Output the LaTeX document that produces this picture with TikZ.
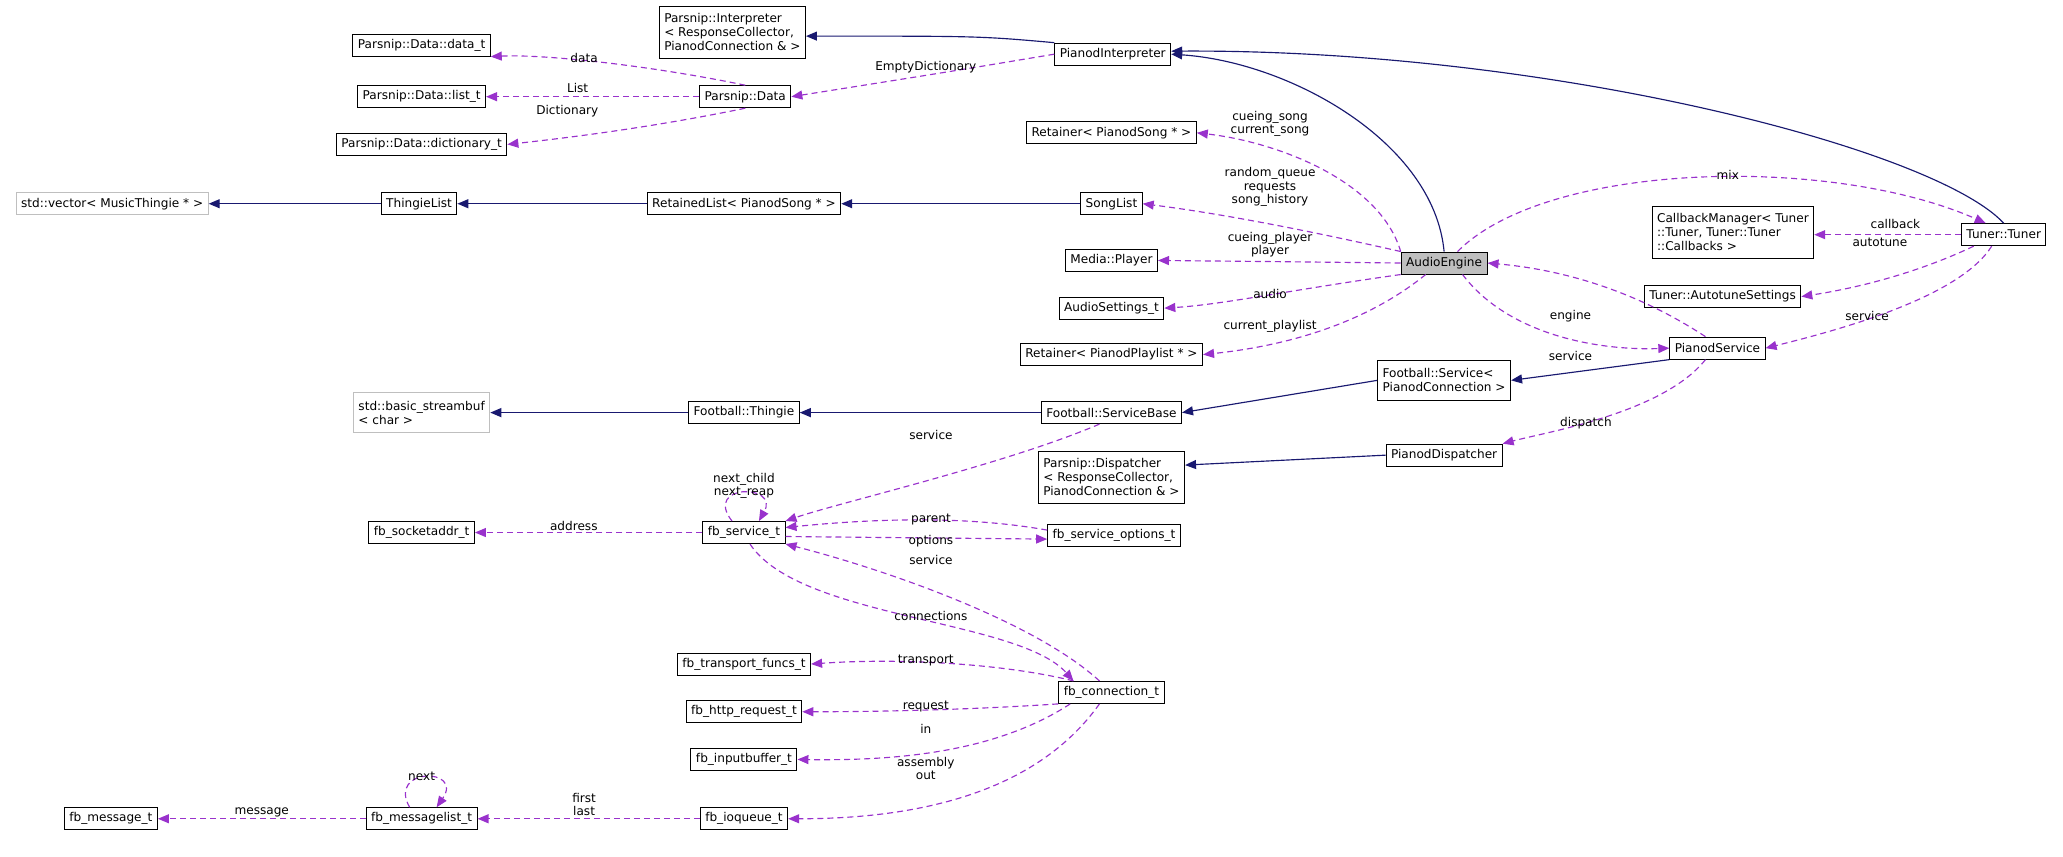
\documentclass[tikz,border=0pt]{standalone}
\usepackage{fontspec}
\setmainfont{DejaVu Sans}
\usetikzlibrary{arrows.meta}
\definecolor{navy}{RGB}{25,25,112}
\definecolor{orch}{RGB}{153,50,204}
\definecolor{gb}{RGB}{191,191,191}
\begin{document}
\begin{tikzpicture}[x=1.29pt,y=-1.29pt,every node/.style={transform shape},scale=1,
 box/.style={draw=black,fill=white,font=\fontsize{12.1}{13.9}\selectfont,inner xsep=5pt,inner ysep=0pt,minimum height=22,align=left,line width=1pt},
 gbox/.style={box,draw=gb},
 inh/.style={draw=navy,line width=1.15pt,-{Triangle[length=11pt,width=9pt]}},
 dep/.style={draw=orch,dashed,dash pattern=on 6pt off 4pt,line width=1.15pt,-{Triangle[length=11pt,width=9pt]}},
 lbl/.style={font=\fontsize{12.1}{13.2}\selectfont,align=center,inner sep=0pt}]
\useasboundingbox (0,0) rectangle (1600,664);
% nodes
\node[box,minimum height=52] (pint) at (568,25) {Parsnip::Interpreter\\< ResponseCollector,\\ PianodConnection \& >};
\node[box] (pi) at (863,42) {PianodInterpreter};
\node[box] (dt) at (327,35) {Parsnip::Data::data\_t};
\node[box] (lt) at (327,75) {Parsnip::Data::list\_t};
\node[box] (dct) at (327,112) {Parsnip::Data::dictionary\_t};
\node[box] (pd) at (578,75) {Parsnip::Data};
\node[box] (rs) at (862,103) {Retainer< PianodSong * >};
\node[gbox] (vec) at (87,158) {std::vector< MusicThingie * >};
\node[box] (tl) at (325,158) {ThingieList};
\node[box] (rl) at (577,158) {RetainedList< PianodSong * >};
\node[box] (sl) at (862,158) {SongList};
\node[box] (mp) at (862,202) {Media::Player};
\node[box] (as) at (862,239) {AudioSettings\_t};
\node[box] (rp) at (862,275) {Retainer< PianodPlaylist * >};
\node[box,fill=gb] (ae) at (1120,204) {AudioEngine};
\node[box,minimum height=52] (cm) at (1344,180) {CallbackManager< Tuner\\::Tuner, Tuner::Tuner\\::Callbacks >};
\node[box] (ats) at (1336,230) {Tuner::AutotuneSettings};
\node[box] (tu) at (1554,182) {Tuner::Tuner};
\node[box] (ps) at (1332,270) {PianodService};
\node[box,minimum height=40] (fs) at (1120,295) {Football::Service<\\ PianodConnection >};
\node[gbox,minimum height=40] (sb) at (327,320) {std::basic\_streambuf\\< char >};
\node[box] (ft) at (577,320) {Football::Thingie};
\node[box] (fsb) at (862,320) {Football::ServiceBase};
\node[box,minimum height=52] (pdis) at (862,370) {Parsnip::Dispatcher\\< ResponseCollector,\\ PianodConnection \& >};
\node[box] (pdp) at (1120,353) {PianodDispatcher};
\node[box] (fsa) at (327,413) {fb\_socketaddr\_t};
\node[box] (fbs) at (577,413) {fb\_service\_t};
\node[box] (fbo) at (864,415) {fb\_service\_options\_t};
\node[box] (ftf) at (577,515) {fb\_transport\_funcs\_t};
\node[box] (fhr) at (577,552) {fb\_http\_request\_t};
\node[box] (fib) at (577,589) {fb\_inputbuffer\_t};
\node[box] (fc) at (862,537) {fb\_connection\_t};
\node[box] (fm) at (86,635) {fb\_message\_t};
\node[box] (fml) at (327,635) {fb\_messagelist\_t};
\node[box] (fq) at (577,635) {fb\_ioqueue\_t};
% inheritance
\draw[inh] (pi.north west) .. controls (760,28) .. (pint.east |- 0,28);
\draw[inh] (ae.north) .. controls (1112,110) and (1000,48) .. (pi.east);
\draw[inh] (tu.north) .. controls (1500,115) and (1200,38) .. ([yshift=3pt]pi.east);
\draw[inh] (tl.west) -- (vec.east);
\draw[inh] (rl.west) -- (tl.east);
\draw[inh] (sl.west) -- (rl.east);
\draw[inh] (ps.south west) -- (fs.east);
\draw[inh] (fs.west) -- (fsb.east);
\draw[inh] (fsb.west) -- (ft.east);
\draw[inh] (ft.west) -- (sb.east);
\draw[inh] (pdp.west) -- ([yshift=12pt]pdis.east);
% dependencies
\draw[dep] (pi.west) .. controls (740,55) .. (pd.east);
\draw[dep] (pd.north) .. controls (500,50) and (420,42) .. (dt.south east);
\draw[dep] (pd.west) -- (lt.east);
\draw[dep] (pd.south) .. controls (500,100) and (430,108) .. (dct.east);
\draw[dep] (ae.north west) .. controls (1070,140) and (990,110) .. (rs.east);
\draw[dep] (ae.north west) .. controls (1020,180) and (950,166) .. (sl.east);
\draw[dep] (ae.west) .. controls (1000,203) .. (mp.east);
\draw[dep] (ae.south west) .. controls (1000,225) and (950,236) .. (as.east);
\draw[dep] ([xshift=25pt]ae.south west) .. controls (1060,250) and (1000,268) .. (rp.east);
\draw[dep] ([xshift=-30pt]ae.north east) .. controls (1200,125) and (1420,120) .. ([xshift=-18pt]tu.north);
\draw[dep] ([xshift=-25pt]ae.south east) .. controls (1170,260) and (1240,272) .. (ps.west);
\draw[dep] ([xshift=-12pt]ps.north) .. controls (1260,220) and (1200,208) .. (ae.east);
\draw[dep] (tu.west) -- (cm.east |- tu.west);
\draw[dep] ([xshift=-30pt]tu.south) .. controls (1480,215) and (1430,225) .. (ats.east);
\draw[dep] ([xshift=-12pt]tu.south) .. controls (1520,230) and (1430,255) .. (ps.east);
\draw[dep] ([xshift=-12pt]ps.south) .. controls (1290,320) and (1200,335) .. (pdp.north east);
\draw[dep] ([xshift=-12pt]fsb.south) .. controls (780,360) and (650,390) .. (fbs.north east);
\draw[dep] ([xshift=-12pt]fbs.north) .. controls (545,375) and (605,375) .. ([xshift=15pt]fbs.north);
\draw[dep] (fbs.west) -- (fsa.east);
\draw[dep] ([yshift=5pt]fbo.west) .. controls (750,400) and (680,402) .. ([yshift=5pt]fbs.east);
\draw[dep] ([yshift=-4pt]fbs.east) -- ([yshift=-4pt]fbo.west);
\draw[dep] ([xshift=-12pt]fc.north) .. controls (800,480) and (680,440) .. (fbs.south east);
\draw[dep] ([xshift=6pt]fbs.south) .. controls (620,480) and (790,480) .. ([xshift=-38pt]fc.north);
\draw[dep] ([xshift=-38pt]fc.north) .. controls (780,515) and (700,510) .. (ftf.east);
\draw[dep] (fc.south west) .. controls (760,550) and (690,552) .. (fhr.east);
\draw[dep] ([xshift=12pt]fc.south west) .. controls (770,585) and (690,590) .. (fib.east);
\draw[dep] ([xshift=-12pt]fc.south) .. controls (800,620) and (700,635) .. (fq.east);
\draw[dep] (fq.west) -- (fml.east);
\draw[dep] ([xshift=-12pt]fml.north) .. controls (300,595) and (360,595) .. ([xshift=15pt]fml.north);
\draw[dep] (fml.west) -- (fm.east);
% labels
\node[lbl] (l1) at (453,45) {data};
\node[lbl] (l2) at (448,68) {List};
\node[lbl] (l3) at (440,86) {Dictionary};
\node[lbl] (l4) at (718,52) {EmptyDictionary};
\node[lbl] (l5) at (985,96) {cueing\_song\\current\_song};
\node[lbl] (l6) at (985,145) {random\_queue\\requests\\song\_history};
\node[lbl] (l7) at (985,190) {cueing\_player\\player};
\node[lbl] (l8) at (985,228) {audio};
\node[lbl] (l9) at (985,253) {current\_playlist};
\node[lbl] (l10) at (1340,136) {mix};
\node[lbl] (l11) at (1218,245) {engine};
\node[lbl] (l12) at (1218,276) {service};
\node[lbl] (l13) at (1470,174) {callback};
\node[lbl] (l14) at (1458,188) {autotune};
\node[lbl] (l15) at (1448,245) {service};
\node[lbl] (l16) at (1230,328) {dispatch};
\node[lbl] (l17) at (722,337) {service};
\node[lbl] (l18) at (577,377) {next\_child\\next\_reap};
\node[lbl] (l19) at (445,408) {address};
\node[lbl] (l20) at (722,403) {parent};
\node[lbl] (l21) at (722,420) {options};
\node[lbl] (l22) at (722,434) {service};
\node[lbl] (l23) at (722,478) {connections};
\node[lbl] (l24) at (718,512) {transport};
\node[lbl] (l25) at (718,548) {request};
\node[lbl] (l26) at (718,565) {in};
\node[lbl] (l27) at (718,596) {assembly\\out};
\node[lbl] (l28) at (327,602) {next};
\node[lbl] (l29) at (453,624) {first\\last};
\node[lbl] (l30) at (203,630) {message};
\end{tikzpicture}
\end{document}
